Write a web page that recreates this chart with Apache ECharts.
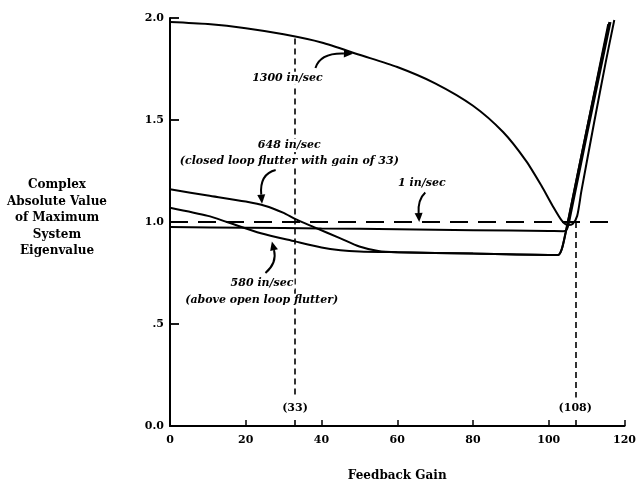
<!DOCTYPE html>
<html>
<head>
<meta charset="utf-8">
<script src="https://cdn.jsdelivr.net/npm/echarts@6/dist/echarts.min.js"></script>
<style>
  html, body { margin: 0; padding: 0; background: #fff; }
  #chart { width: 639px; height: 487px; }
</style>
</head>
<body>
<div id="chart"></div>
<script>
// Maximum system eigenvalue magnitude vs. feedback gain, four flight speeds.
const yTickLabels = ['0.0', '.5', '1.0', '1.5', '2.0'];
const xTickValues = [0, 20, 40, 60, 80, 100, 120];

const gain1300 = [0, 10, 20, 30, 40, 50, 60, 70, 80, 88, 94, 98, 101, 103.5, 105, 106.3, 107.5, 108.6, 112, 115, 117.3];
const val1300  = [1.98, 1.97, 1.95, 1.92, 1.88, 1.82, 1.76, 1.68, 1.57, 1.44, 1.30, 1.18, 1.08, 1.005, 0.985, 0.99, 1.03, 1.15, 1.49, 1.78, 1.99];

const gain1 = [0, 20, 40, 60, 80, 100, 103.8, 104.8, 105.6, 110, 116.3];
const val1  = [0.975, 0.972, 0.968, 0.965, 0.96, 0.956, 0.955, 0.965, 1.02, 1.42, 1.98];

const gain648 = [0, 10, 20, 25, 30, 33, 38, 45, 50, 55, 60, 80, 102.5, 103.5, 104.5, 105.5, 110, 116];
const val648  = [1.16, 1.13, 1.10, 1.08, 1.045, 1.015, 0.975, 0.92, 0.88, 0.858, 0.852, 0.845, 0.838, 0.87, 0.95, 1.04, 1.45, 1.98];

const gain580 = [0, 10, 15, 24, 33, 40, 45, 50, 60, 80, 102.4, 103.4, 104.4, 105.4, 110, 115.7];
const val580  = [1.07, 1.03, 1.0, 0.945, 0.905, 0.875, 0.862, 0.856, 0.852, 0.845, 0.838, 0.866, 0.945, 1.035, 1.45, 1.97];

// reference lines: neutral stability and the two gains of interest
const unitLevel = 1.0;
const gainClosedLoop = 33;
const gainUpper = 107;

const serif = 'DejaVu Serif';

function pairs(g, v) { return g.map((x, i) => [x, v[i]]); }

function curve(name, g, v) {
  return {
    name: name, type: 'line', data: pairs(g, v),
    showSymbol: false, symbol: 'none', smooth: 0.25,
    lineStyle: { color: '#000', width: 2 }, z: 3, silent: true
  };
}

const chart = echarts.init(document.getElementById('chart'), null, { renderer: 'canvas' });

const series = [
  curve('1300 in/sec', gain1300, val1300),
  curve('1 in/sec', gain1, val1),
  curve('648 in/sec', gain648, val648),
  curve('580 in/sec', gain580, val580)
];

// dashed guide lines
series.push({
  type: 'line', data: [], silent: true,
  markLine: {
    symbol: 'none', silent: true, label: { show: false },
    data: [
      [{ coord: [0, unitLevel] }, { coord: [116, unitLevel] }],
    ],
    lineStyle: { color: '#000', width: 1.8, type: [18, 10] }
  }
});
series.push({
  type: 'line', data: [], silent: true,
  markLine: {
    symbol: 'none', silent: true, label: { show: false },
    data: [
      [{ coord: [gainClosedLoop, 1.9] }, { coord: [gainClosedLoop, 0.14] }],
      [{ coord: [gainUpper, unitLevel] }, { coord: [gainUpper, 0.14] }],
      [{ coord: [gainClosedLoop, 0.0] }, { coord: [gainClosedLoop, 0.035] }],
      [{ coord: [gainUpper, 0.0] }, { coord: [gainUpper, 0.035] }]
    ],
    lineStyle: { color: '#000', width: 1.6, type: [6, 4] }
  }
});

chart.setOption({
  animation: false,
  backgroundColor: '#fff',
  grid: { left: 170, right: 10, top: 18, bottom: 59 },
  xAxis: {
    type: 'value', min: 0, max: 120, interval: 20,
    name: 'Feedback Gain', nameLocation: 'middle', nameGap: 44,
    nameTextStyle: { fontFamily: serif, fontWeight: 'bold', fontSize: 12, color: '#000' },
    axisLine: { lineStyle: { color: '#000', width: 2 } },
    axisTick: { inside: true, length: 6, lineStyle: { color: '#000', width: 1.5 } },
    axisLabel: {
      margin: 9, fontFamily: serif, fontWeight: 'bold', fontSize: 11, color: '#000',
      formatter: v => xTickValues.includes(v) ? String(v) : ''
    },
    splitLine: { show: false }
  },
  yAxis: {
    type: 'value', min: 0, max: 2, interval: 0.5,
    axisLine: { show: true, lineStyle: { color: '#000', width: 2 } },
    axisTick: { show: true, inside: true, length: 9, lineStyle: { color: '#000', width: 1.8 } },
    axisLabel: {
      margin: 6, fontFamily: serif, fontWeight: 'bold', fontSize: 11, color: '#000',
      formatter: v => yTickLabels[Math.round(v / 0.5)]
    },
    splitLine: { show: false }
  },
  series: series
});

// annotation text positions in data units
const notes = [
  { text: '1300 in/sec', at: [31, 1.705] },
  { text: '648 in/sec', at: [31.5, 1.375] },
  { text: '(closed loop flutter with gain of 33)', at: [31.5, 1.30] },
  { text: '1 in/sec', at: [66.5, 1.19] },
  { text: '580 in/sec', at: [24.3, 0.70] },
  { text: '(above open loop flutter)', at: [24.2, 0.617] }
];
const gainNotes = [
  { text: '(33)', at: [gainClosedLoop, 0.088] },
  { text: '(108)', at: [gainUpper, 0.088] }
];
// curved pointers: start, control, end (arrow tip)
const pointers = [
  [[38.4, 1.755], [39.6, 1.83], [48.3, 1.825]],
  [[27.9, 1.255], [23.6, 1.235], [24.3, 1.09]],
  [[67.4, 1.145], [65.4, 1.11], [65.8, 1.0]],
  [[25.2, 0.75], [28.3, 0.80], [26.9, 0.905]]
];

function px(p) { return chart.convertToPixel({ gridIndex: 0 }, p); }

const graphics = [];
notes.forEach(n => {
  const p = px(n.at);
  graphics.push({
    type: 'text', x: p[0], y: p[1], silent: true, z: 10,
    style: {
      text: n.text, fill: '#000', align: 'center', verticalAlign: 'middle',
      backgroundColor: '#fff', padding: [1, 1],
      font: 'italic bold 11px "' + serif + '"'
    }
  });
});
gainNotes.forEach(n => {
  const p = px(n.at);
  graphics.push({
    type: 'text', x: p[0], y: p[1], silent: true,
    style: {
      text: n.text, fill: '#000', align: 'center', verticalAlign: 'middle',
      font: 'bold 11px "' + serif + '"'
    }
  });
});
pointers.forEach(a => {
  const s = px(a[0]), c = px(a[1]), e = px(a[2]);
  let dx = e[0] - c[0], dy = e[1] - c[1];
  const len = Math.hypot(dx, dy); dx /= len; dy /= len;
  const L = 9, W = 4;
  const bx = e[0] - dx * L, by = e[1] - dy * L;
  graphics.push({
    type: 'bezierCurve', silent: true, z: 11,
    shape: { x1: s[0], y1: s[1], cpx1: c[0], cpy1: c[1], x2: bx, y2: by },
    style: { stroke: '#000', lineWidth: 2, fill: null }
  });
  graphics.push({
    type: 'polygon', silent: true, z: 11,
    shape: { points: [[e[0], e[1]], [bx - dy * W, by + dx * W], [bx + dy * W, by - dx * W]] },
    style: { fill: '#000' }
  });
});

// vertical axis title
graphics.push({
  type: 'text', x: 57, y: 177, silent: true,
  style: {
    text: 'Complex\nAbsolute Value\nof Maximum\nSystem\nEigenvalue',
    fill: '#000', align: 'center', verticalAlign: 'top', lineHeight: 16.5,
    font: 'bold 12px "' + serif + '"'
  }
});

chart.setOption({ graphic: graphics });
</script>
</body>
</html>
